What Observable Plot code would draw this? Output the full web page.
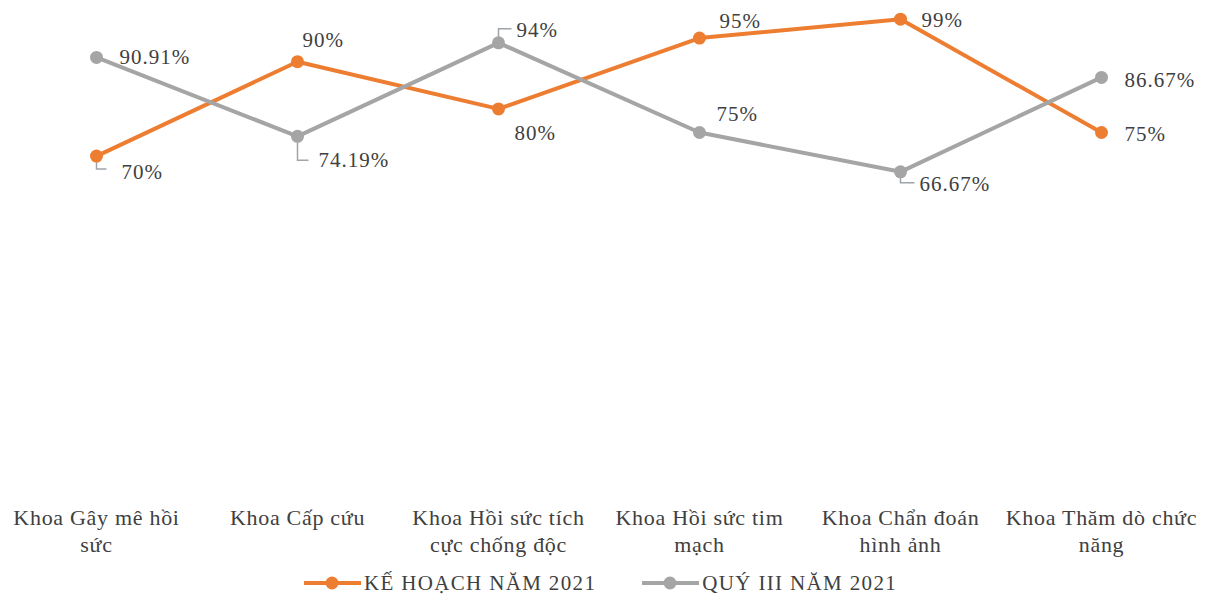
<!DOCTYPE html>
<html>
<head>
<meta charset="utf-8">
<script src="https://cdn.jsdelivr.net/npm/d3@7"></script>
<script src="https://cdn.jsdelivr.net/npm/@observablehq/plot@0.6"></script>
<style>
  html, body { margin: 0; padding: 0; background: #fff; }
  #chart { width: 1216px; }
  #chart svg text { font-family: "Liberation Serif", "Times New Roman", serif !important; }
  #chart svg .data-label text { letter-spacing: 1px; }
  #chart svg [aria-label="x-axis tick label"] text { letter-spacing: 0.7px; }
  .legend { display: flex; justify-content: center; align-items: center; gap: 46px; height: 46px;
    box-sizing: border-box; padding-right: 15px;
    font-family: "Liberation Serif", "Times New Roman", serif; font-size: 21px; letter-spacing: 1.35px; color: #404040; }
  .legend .item { display: flex; align-items: center; gap: 3px; }
  .legend svg { display: block; }
</style>
</head>
<body>
<div id="chart"></div>
<script>
// ---- data ----
const categories = ["Khoa Gây mê hồi sức", "Khoa Cấp cứu", "Khoa Hồi sức tích cực chống độc", "Khoa Hồi sức tim mạch", "Khoa Chẩn đoán hình ảnh", "Khoa Thăm dò chức năng"];
const tickLabels = ["Khoa Gây mê hồi\nsức", "Khoa Cấp cứu", "Khoa Hồi sức tích\ncực chống độc", "Khoa Hồi sức tim\nmạch", "Khoa Chẩn đoán\nhình ảnh", "Khoa Thăm dò chức\nnăng"];
const seriesNames = ["KẾ HOẠCH NĂM 2021", "QUÝ III NĂM 2021"];
const keHoach = [70, 90, 80, 95, 99, 75];
const quyIII = [90.91, 74.19, 94, 75, 66.67, 86.67];
const keHoachLabels = ["70%", "90%", "80%", "95%", "99%", "75%"];
const quyIIILabels = ["90.91%", "74.19%", "94%", "75%", "66.67%", "86.67%"];

// ---- layout / style (not data) ----
const colors = ["#ED7D31", "#A5A5A5"];
const labelOffsets = [
  [[25, 16], [5, -21], [16, 24], [20, -17], [21, 1], [23, 2]],   // KẾ HOẠCH
  [[23, 0], [21, 24], [18, -13], [17, -18], [19, 12], [23, 3]]    // QUÝ III
];
// leader lines: [vertical length, horizontal length] or null
const leaders = [
  [[13, 10], null, null, null, null, null],
  [null, [24, 11], [-14, 13], null, [11, 14], null]
];

const table = [];
[keHoach, quyIII].forEach((vals, s) => {
  const labs = s === 0 ? keHoachLabels : quyIIILabels;
  vals.forEach((v, i) => table.push({series: seriesNames[s], s, i, cat: categories[i], value: v, label: labs[i]}));
});

const fontFamily = "Liberation Serif";
const marks = [];

// leader lines
table.forEach(d => {
  const L = leaders[d.s][d.i];
  if (!L) return;
  const [h, w] = L;
  marks.push(Plot.dot([d], {
    x: "cat", y: "value", r: 1, fill: "none", stroke: "#9ea4aa", strokeWidth: 1.5,
    symbol: {draw(ctx) { ctx.moveTo(0, 0); ctx.lineTo(0, h); ctx.lineTo(w, h); }}
  }));
});

// lines and points
seriesNames.forEach((name, s) => {
  const rows = table.filter(d => d.s === s);
  marks.push(Plot.line(rows, {x: "cat", y: "value", stroke: colors[s], strokeWidth: 4, curve: "linear"}));
  marks.push(Plot.dot(rows, {x: "cat", y: "value", r: 6.5, fill: colors[s], stroke: "none"}));
});

// labels
table.forEach(d => {
  const [dx, dy] = labelOffsets[d.s][d.i];
  marks.push(Plot.text([d], {
    x: "cat", y: "value", text: "label", dx, dy, textAnchor: "start",
    fill: "#404040", fontSize: 21, fontFamily, className: "data-label"
  }));
});

// x axis
marks.push(Plot.axisX({
  tickSize: 0, tickPadding: 19, fontSize: 22, fill: "#404040", fontFamily, lineHeight: 1.23,
  tickFormat: c => tickLabels[categories.indexOf(c)]
}));

const chart = Plot.plot({
  width: 1216,
  height: 560,
  marginTop: 14,
  marginBottom: 74,
  marginLeft: 95,
  marginRight: 114,
  style: {background: "#fff", overflow: "visible"},
  x: {type: "point", domain: categories, padding: 0, label: null},
  y: {domain: [0, 100], axis: null},
  marks
});
document.getElementById("chart").appendChild(chart);

// legend
const legend = document.createElement("div");
legend.className = "legend";
seriesNames.forEach((name, s) => {
  const item = document.createElement("div");
  item.className = "item";
  item.innerHTML = `<svg width="57" height="16"><line x1="0" y1="8" x2="57" y2="8" stroke="${colors[s]}" stroke-width="4"/><circle cx="28" cy="8" r="6.5" fill="${colors[s]}"/></svg><span>${name}</span>`;
  legend.appendChild(item);
});
document.getElementById("chart").appendChild(legend);
</script>
</body>
</html>
